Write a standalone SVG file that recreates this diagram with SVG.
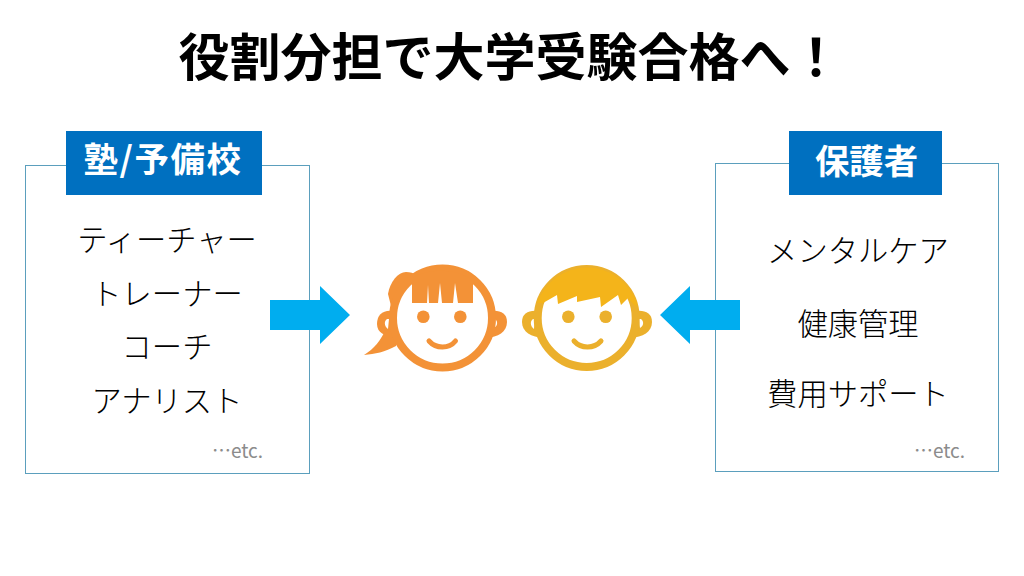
<svg xmlns="http://www.w3.org/2000/svg" width="1024" height="576" viewBox="0 0 1024 576" xml:lang="ja">
<style>
text{font-family:"Noto Sans CJK JP","Liberation Sans",sans-serif;text-anchor:middle}
.title{font-size:51px;font-weight:700;fill:#000}
.head{font-size:34.400px;font-weight:700;fill:#fff}
.item{font-size:30.300px;font-weight:300;fill:#000}
.etc{font-size:19px;font-weight:400;fill:#8c8c8c}
.box{fill:#fff;stroke:#5b9fbd;stroke-width:1}
.tab{fill:#0070c0}
.arrow{fill:#00adef}
.gf{fill:#f39237}
.bf{fill:#ebb02c}
</style>
<rect width="1024" height="576" fill="#fff"/>
<text id="title" class="title" x="510" y="76">役割分担で大学受験合格へ！</text>
<g id="node-juku">
<rect class="box" x="25.500" y="165.500" width="284" height="308"/>
<rect class="tab" x="66" y="131" width="196" height="64"/>
<text class="head" x="163" y="172" letter-spacing="1.600">塾/予備校</text>
<text class="item" x="167" y="251">ティーチャー</text>
<text class="item" x="167" y="305">トレーナー</text>
<text class="item" x="167" y="358">コーチ</text>
<text class="item" x="167" y="412">アナリスト</text>
<text class="etc" x="237.500" y="458">…etc.</text>
</g>
<g id="node-parents">
<rect class="box" x="715.500" y="163.500" width="283" height="308"/>
<rect class="tab" x="789" y="131" width="153" height="64"/>
<text class="head" x="866.500" y="174">保護者</text>
<text class="item" x="858" y="262">メンタルケア</text>
<text class="item" x="858" y="335">健康管理</text>
<text class="item" x="858" y="405">費用サポート</text>
<text class="etc" x="939.500" y="458">…etc.</text>
</g>
<g id="connectors">
<path class="arrow" d="M270 300H320V286L350 315L320 344V330H270Z"/>
<path class="arrow" d="M740 300H690V286L660 315L690 344V330H740Z"/>
</g>
<g id="node-girl">
<path class="gf" d="M377 324C377 315 383 310 392 311L398 312L394 337C385 336 377 333 377 324Z"/>
<path class="gf" d="M507 322C507 313 500 310 491 311L486 338C498 337 507 332 507 322Z"/>
<path fill="#fff" d="M387 319C384 321 384 326 388 329L389 319ZM495 319C498 321 498 326 494 328L493 319Z"/>
<path class="gf" d="M396 346C385 352 375 354 364 355C374 349 381 340 386 329L397 335Z"/>
<path class="gf" d="M394 318L388 294C390 282 398 272 406 272C410 272 414 273 416 275L420 295L400 318Z"/>
<circle cx="442.500" cy="318" r="49.500" fill="#fff" stroke="#f39237" stroke-width="8"/>
<path class="gf" d="M412 303V278C430 268 455 268 473 280V303H458L455 283L453 303H442L440 283L438 303H429L428 285L427 303Z"/>
<circle cx="423.300" cy="316.700" r="6.300" class="gf"/>
<circle cx="460.300" cy="316.700" r="6.300" class="gf"/>
<path d="M429 341C436 349 449 349 455.500 341" fill="none" stroke="#f39237" stroke-width="5" stroke-linecap="round"/>
</g>
<g id="node-boy">
<path class="bf" d="M522 322C522 313 529 310 538 311L544 338C531 337 522 332 522 322Z"/>
<path class="bf" d="M652 322C652 313 645 310 636 311L630 338C643 337 652 332 652 322Z"/>
<path fill="#fff" d="M533 319C530 321 530 326 534 329L535 319ZM641 319C644 321 644 326 640 328L639 319Z"/>
<circle cx="586.700" cy="318" r="49" fill="#fff" stroke="#ebb02c" stroke-width="8"/>
<path fill="#f4b41a" d="M537 303A53 53 0 0 1 637 303L636 307L628 298L621 305L618 295L601 307L600 297L577 302L577 296L558 304L557 295L543 303Z"/>
<circle cx="568.300" cy="316.700" r="6.300" class="bf"/>
<circle cx="605.700" cy="316.700" r="6.300" class="bf"/>
<path d="M574 341C581 349 594 349 601 341" fill="none" stroke="#ebb02c" stroke-width="5" stroke-linecap="round"/>
</g>
</svg>
